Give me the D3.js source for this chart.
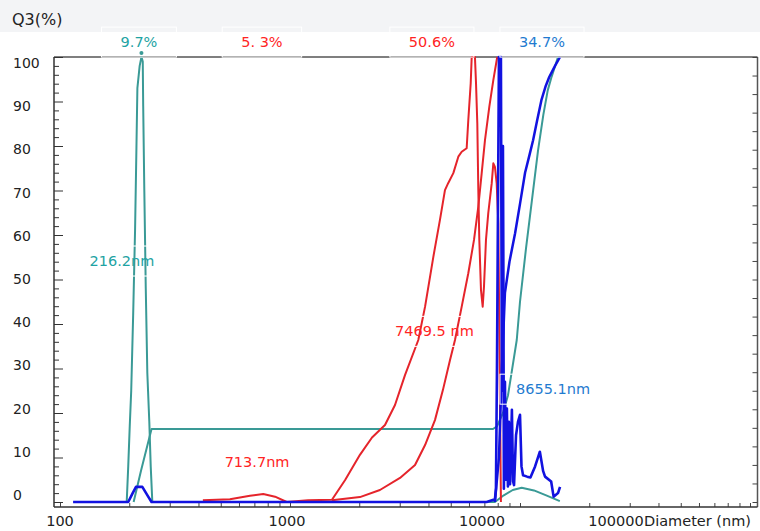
<!DOCTYPE html>
<html>
<head>
<meta charset="utf-8">
<script src="https://cdn.jsdelivr.net/npm/d3@7"></script>
<style>
body{margin:0;background:#fff;}
svg{display:block;font-family:"DejaVu Sans",sans-serif;}
</style>
</head>
<body>
<div id="chart"></div>
<script>
// diameter (nm), percent
const tealFreq = [[195,0],[198,8],[201,17],[204,25],[208,42],[212,61],[215,80],[217,93],[222,98],[226,100],[229,99],[230,89],[232.6,70],[236,48],[239.7,29],[244.5,18],[248,8],[252,0],
  [7780,0],[8500,1.5],[9300,2.7],[10170,3.2],[11500,2.6],[13000,1.5],[14900,0.2]];
const tealCum = [[209,0],[225,7],[250,16.4],[7630,16.4],[7943,17],[8433,20],[8870,24],[9680,36.4],[10000,45],[10620,57],[11280,68],[11980,79],[12630,87],[13200,92.5],[13730,95.6],[14630,100]];
const redFreq = [[418,0.4],[548,0.6],[670,1.4],[765,1.8],[861,1.2],[968,0],[1197,0.4],[1522,0.5],[1734,4.9],[2014,10.6],[2273,14.5],[2588,17.3],[2861,21.8],[3162,28.5],[3613,36.4],[3866,43.9],[4200,55.1],[4487,63.4],[4718,70.1],[4878,71.7],[5130,73.9],[5393,77.6],[5579,78.7],[5863,79.5],[5959,85.8],[6105,94.1],[6166,100],[6370,100],[6438,94.1],[6522,85.1],[6588,70.1],[6654,58.9],[6767,47.6],[6883,43.9],[6973,48.4],[7113,58.9],[7278,64.9],[7533,71.6],[7656,76.1],[7780,75.3],[7918,71.6],[8049,62.6],[8261,0]];
const redCum = [[1522,0.4],[2014,1.1],[2460,2.7],[3008,5.4],[3496,8.3],[3866,12.8],[4268,18.4],[4624,25.2],[4963,31.9],[5216,36.4],[5579,43.9],[5959,51.4],[6310,58.9],[6588,66.4],[6815,73.9],[7043,81.3],[7354,88.8],[7656,94.8],[7962,100]];
const blueFreq = [[114,0],[198,0],[207,2],[214,3.4],[228,3.4],[240,1.5],[250,0],[7163,0],[7780,0.6],[7860,3],[7940,30],[8100,100],[8261,100],[8345,25],[8430,80],[8470,50],[8510,3],[8600,27],[8690,5],[8770,21],[8860,3.5],[8950,18],[9050,4],[9220,20.7],[9330,4.6],[9420,3.8],[9610,15],[9800,18],[10000,19.6],[10150,8],[10310,6],[10740,5.7],[11100,5.5],[11630,8],[12200,11.3],[12600,7],[12850,5.7],[13660,4.6],[14000,1.2],[14630,2],[14930,3.4]];
const blueCum = [[7780,0],[8100,10],[8345,30],[8600,47],[9000,54],[9520,60.4],[10000,67],[10520,74],[11000,78],[11400,81.3],[11900,86],[12390,90.3],[12900,93.3],[13400,95.5],[14200,98],[14930,100]];

const yTicks = [0,10,20,30,40,50,60,70,80,90,100];
const xTicks = [100,1000,10000,100000];
const xTitle = "Diameter (nm)";
const yTitle = "Q3(%)";

// peak labels: text, diameter, percent
const topLabels = [["9.7%",220.5,103.4,"teal"],["5. 3%",755,103.4,"red"],["50.6%",4140,103.4,"red"],["34.7%",12460,103.4,"blue"]];
const peakLabels = [["216.2nm",186,54.2,"teal"],["713.7nm",719,9,"red"],["7469.5 nm",4246,38.4,"red"],["8655.1nm",13915,25.4,"blue"]];

const colors = {teal:"#3a9a96", red:"#e5242b", blue:"#1212e0"};
const textColors = {teal:"#1ea3a3", red:"#ff2424", blue:"#1f7bd0"};

const W = 760, H = 531;
const svg = d3.select("#chart").append("svg").attr("width",W).attr("height",H);

const x = d3.scaleLog().domain([100,100000]).range([60,750]);
const y = d3.scaleLinear().domain([0,100]).range([502,57]);
const yLab = d3.scaleLinear().domain([0,100]).range([495,63]);
const pL = 54, pR = 757.5, pT = 57, pB = 507;

// header band
svg.append("rect").attr("x",0).attr("y",0).attr("width",W).attr("height",32).attr("fill","#f3f4f6");
svg.append("text").attr("x",12).attr("y",25).attr("font-size",16).attr("fill","#222").text(yTitle);

// frame
svg.append("line").attr("x1",pL).attr("x2",pR).attr("y1",pT).attr("y2",pT).attr("stroke","#555").attr("stroke-width",1.5);
svg.append("line").attr("x1",pR).attr("x2",pR).attr("y1",pT).attr("y2",pB).attr("stroke","#555").attr("stroke-width",1.5);

// left axis (minor + major ticks, inward)
const gl = svg.append("g").attr("transform","translate("+pL+",0)");
gl.call(d3.axisRight(y).tickValues(d3.range(0,101,2)).tickSize(5).tickFormat(""));
gl.selectAll(".tick").filter(d => d%10===0).select("line").attr("x2",9);
gl.select(".domain").remove();
gl.selectAll(".tick line").attr("stroke","#333");
svg.append("line").attr("x1",pL).attr("x2",pL).attr("y1",pT).attr("y2",pB).attr("stroke","#333").attr("stroke-width",1.5);

svg.append("g").selectAll("text").data(yTicks).enter().append("text")
  .attr("x",13).attr("y",d => yLab(d)).attr("dy","0.36em")
  .attr("font-size",14).attr("fill","#222").text(d => d);

// right axis
const gr = svg.append("g").attr("transform","translate("+pR+",0)");
gr.call(d3.axisLeft(y).tickValues(d3.range(0,100.001,100/24)).tickSize(5).tickFormat(""));
gr.select(".domain").remove();
gr.selectAll(".tick line").attr("stroke","#444");

// bottom axis
const gb = svg.append("g").attr("transform","translate(0,"+pB+")");
gb.call(d3.axisTop(x).tickValues(x.ticks()).tickSize(4).tickFormat(""));
gb.select(".domain").remove();
gb.selectAll(".tick line").attr("stroke","#444");
svg.append("line").attr("x1",pL).attr("x2",pR).attr("y1",pB).attr("y2",pB).attr("stroke","#333").attr("stroke-width",1.5);

const xShift = [0,-3,-38,-134];
svg.append("g").selectAll("text").data(xTicks).enter().append("text")
  .attr("x",(d,i) => x(d)+xShift[i]).attr("y",526)
  .attr("text-anchor","middle").attr("font-size",14.5).attr("fill","#222")
  .text(d => d);
svg.append("text").attr("x",x(100000)-134+28).attr("y",526).attr("font-size",14.5).attr("fill","#222").text(xTitle);

// curves
const line = d3.line().x(d => x(d[0])).y(d => y(d[1]));
const series = [[tealCum,"teal",2],[tealFreq,"teal",2],[redFreq,"red",2],[redCum,"red",2],[blueCum,"blue",2.5],[blueFreq,"blue",2.6]];
svg.append("g").selectAll("path").data(series).enter().append("path")
  .attr("d",d => line(d[0])).attr("fill","none")
  .attr("stroke",d => colors[d[1]]).attr("stroke-width",d => d[2])
  .attr("stroke-linejoin","round");

// peak marker
const tp = tealFreq.find(d => d[1]===100);
svg.append("circle").attr("cx",x(tp[0])).attr("cy",y(100)-4).attr("r",2).attr("fill",colors.teal);

// labels with white boxes
function addLabels(data, size, padX, padY){
  const g = svg.append("g");
  data.forEach(d => {
    const t = g.append("text").attr("x",x(d[1])).attr("y",y(d[2]))
      .attr("text-anchor","middle").attr("dy","0.36em")
      .attr("font-size",size).attr("fill",textColors[d[3]]).text(d[0]);
    const b = t.node().getBBox();
    g.insert("rect","text").attr("x",b.x-padX).attr("y",b.y-padY)
      .attr("width",b.width+2*padX).attr("height",b.height+2*padY)
      .attr("fill","none").attr("stroke","#fff").attr("stroke-width",1);
  });
}
addLabels(topLabels,14.5,19,7);
addLabels(peakLabels,14.5,16,7);
</script>
</body>
</html>
